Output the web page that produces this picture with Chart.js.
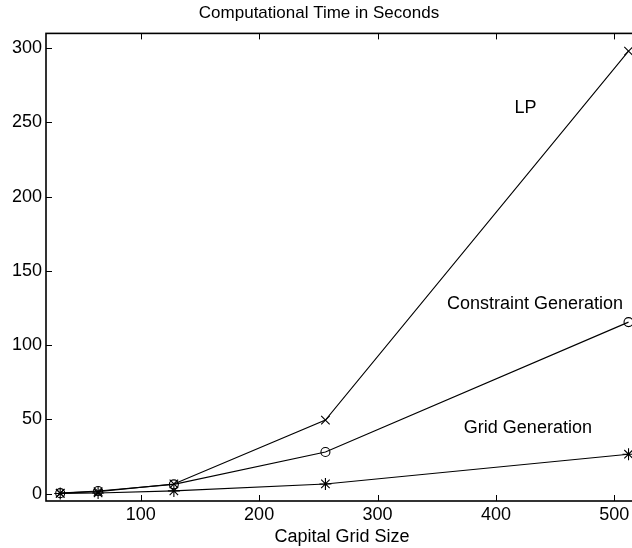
<!DOCTYPE html>
<html>
<head>
<meta charset="utf-8">
<script src="https://cdn.jsdelivr.net/npm/chart.js@4/dist/chart.umd.min.js"></script>
<style>
  html, body { margin: 0; padding: 0; background: #fff; overflow: hidden; width: 632px; height: 548px; }
  #chart { display: block; }
</style>
</head>
<body>
<canvas id="chart" width="684" height="548"></canvas>
<script>
// Grid sizes and timings (seconds)
const gridSizes = [32, 64, 128, 256, 512];
const lpTimes = [0.3, 1.3, 6.5, 49.5, 298];
const constraintTimes = [0.3, 1.7, 6.2, 28, 115.5];
const gridGenTimes = [0.1, 0.4, 1.8, 6.5, 26.5];

const xTicks = [100, 200, 300, 400, 500];
const yTicks = [0, 50, 100, 150, 200, 250, 300];

// text labels placed in data units
const seriesLabels = [
  { text: 'LP', x: 425, y: 260 },
  { text: 'Constraint Generation', x: 433, y: 128 },
  { text: 'Grid Generation', x: 427, y: 44 }
];

const FONT = 'Liberation Sans, Arial, Helvetica, sans-serif';

function toPoints(ys) {
  return gridSizes.map((x, i) => ({ x: x, y: ys[i] }));
}

// inward MATLAB style ticks, full box, and text labels
const matlabAxes = {
  id: 'matlabAxes',
  afterDatasetsDraw(chart) {
    const ctx = chart.ctx;
    const a = chart.chartArea;
    const xs = chart.scales.x, ys = chart.scales.y;
    const len = 6;
    ctx.save();
    ctx.strokeStyle = '#000';
    ctx.lineWidth = 1;
    ctx.beginPath();
    xTicks.forEach(v => {
      const px = Math.round(xs.getPixelForValue(v)) + 0.5;
      ctx.moveTo(px, a.bottom); ctx.lineTo(px, a.bottom - len);
      ctx.moveTo(px, a.top); ctx.lineTo(px, a.top + len);
    });
    yTicks.forEach(v => {
      const py = Math.round(ys.getPixelForValue(v)) + 0.5;
      ctx.moveTo(a.left, py); ctx.lineTo(a.left + len, py);
      ctx.moveTo(a.right, py); ctx.lineTo(a.right - len, py);
    });
    ctx.stroke();
    ctx.lineWidth = 1.6;
    ctx.strokeRect(a.left, a.top, a.right - a.left, a.bottom - a.top);

    ctx.fillStyle = '#000';
    ctx.font = '18px ' + FONT;
    ctx.textAlign = 'center';
    ctx.textBaseline = 'middle';
    seriesLabels.forEach(l => {
      ctx.fillText(l.text, xs.getPixelForValue(l.x), ys.getPixelForValue(l.y));
    });
    ctx.restore();
  }
};

const lineStyle = { borderColor: '#000', borderWidth: 1.1, pointBorderColor: '#000', pointBorderWidth: 1.1, tension: 0 };

new Chart(document.getElementById('chart'), {
  type: 'line',
  data: {
    datasets: [
      Object.assign({ label: 'LP', data: toPoints(lpTimes), pointStyle: 'crossRot', pointRadius: 6, pointBackgroundColor: '#000' }, lineStyle),
      Object.assign({ label: 'Constraint Generation', data: toPoints(constraintTimes), pointStyle: 'circle', pointRadius: 4.5, pointBackgroundColor: 'rgba(0,0,0,0)' }, lineStyle),
      Object.assign({ label: 'Grid Generation', data: toPoints(gridGenTimes), pointStyle: 'star', pointRadius: 6, pointBackgroundColor: '#000' }, lineStyle)
    ]
  },
  options: {
    responsive: false,
    animation: false,
    devicePixelRatio: 1,
    layout: { padding: { left: 0, right: 46, top: 0, bottom: 0 } },
    plugins: {
      legend: { display: false },
      tooltip: { enabled: false },
      title: {
        display: true,
        text: 'Computational Time in Seconds',
        color: '#000',
        font: { family: FONT, size: 17, weight: 'normal' },
        padding: { top: 3, bottom: 10 }
      }
    },
    scales: {
      x: {
        type: 'linear',
        min: 20,
        max: 520,
        grid: { display: false, drawTicks: false },
        border: { display: false },
        afterBuildTicks: s => { s.ticks = xTicks.map(v => ({ value: v })); },
        afterFit: s => { s.height = 47; },
        ticks: { color: '#000', padding: 3, maxRotation: 0, font: { family: FONT, size: 18 } },
        title: {
          display: true,
          text: 'Capital Grid Size',
          color: '#000',
          font: { family: FONT, size: 18 },
          padding: { top: 6, bottom: 0 }
        }
      },
      y: {
        type: 'linear',
        min: -5,
        max: 310,
        grid: { display: false, drawTicks: false },
        border: { display: false },
        afterBuildTicks: s => { s.ticks = yTicks.map(v => ({ value: v })); },
        afterFit: s => { s.width = 46; },
        ticks: { color: '#000', padding: 4, font: { family: FONT, size: 18 } }
      }
    }
  },
  plugins: [matlabAxes]
});
</script>
</body>
</html>
